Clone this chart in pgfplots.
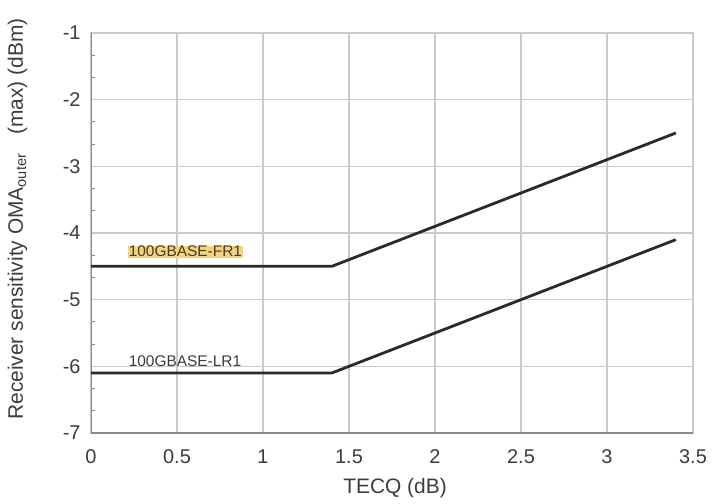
\documentclass[border=0pt]{standalone}
\usepackage{fontspec}
\setmainfont{Liberation Sans}
\usepackage{pgfplots}
\pgfplotsset{compat=1.18}
\definecolor{gridc}{HTML}{CACACA}
\definecolor{axc}{HTML}{8C8C8C}
\definecolor{txt}{HTML}{3C3C3C}
\definecolor{hl}{HTML}{F6D374}
\definecolor{linec}{HTML}{2A2A2A}
\begin{document}
\begin{tikzpicture}
\begin{axis}[
  scale only axis, width=602bp, height=400bp,
  xmin=0, xmax=3.5, ymin=-7, ymax=-1,
  xtick={0,0.5,1,1.5,2,2.5,3,3.5},
  xticklabels={0,0.5,1,1.5,2,2.5,3,3.5},
  ytick={-7,-6,-5,-4,-3,-2,-1},
  yticklabels={-7,-6,-5,-4,-3,-2,-1},
  minor y tick num=2,
  xtick pos=bottom, ytick pos=left,
  major tick length=0pt,
  minor tick length=4bp,
  minor tick style={axc, line width=0.8bp},
  tick align=inside,
  grid=major,
  major grid style={gridc, line width=1.6bp},
  axis line style={gridc, line width=1.6bp},
  ticklabel style={text=txt, font=\fontsize{20}{22}\selectfont},
  xticklabel style={yshift=-13bp},
  yticklabel style={xshift=-7bp},
  xlabel={TECQ (dB)},
  ylabel={Receiver sensitivity OMA\textsubscript{outer}\hspace{0.9em}(max) (dBm)},
  label style={text=txt, font=\fontsize{21}{22}\selectfont},
  xlabel style={at={(axis description cs:0.505,-0.1375)}, anchor=center},
  ylabel style={at={(axis description cs:-0.122,0.535)}, anchor=center},
]
\coordinate (SW) at (rel axis cs:0,0);
\coordinate (NE) at (rel axis cs:1,1);
\draw[axc, line width=2bp] (rel axis cs:0,1) -- (rel axis cs:0,0) -- (rel axis cs:1,0);
\addplot[linec, line width=2.8bp] coordinates {(0,-4.5) (1.4,-4.5) (3.4,-2.5)};
\addplot[linec, line width=2.8bp] coordinates {(0,-6.1) (1.4,-6.1) (3.4,-4.1)};
\node[anchor=west, fill=hl, inner sep=0.6bp, text=txt, font=\fontsize{15.5}{16}\selectfont] at (axis cs:0.215,-4.28) {100GBASE-FR1};
\node[anchor=west, inner sep=0.6bp, text=txt, font=\fontsize{15.5}{16}\selectfont] at (axis cs:0.215,-5.93) {100GBASE-LR1};
\end{axis}
\pgfresetboundingbox
\path ([shift={(-91bp,-71bp)}]SW) rectangle ([shift={(20bp,33bp)}]NE);
\end{tikzpicture}
\end{document}
